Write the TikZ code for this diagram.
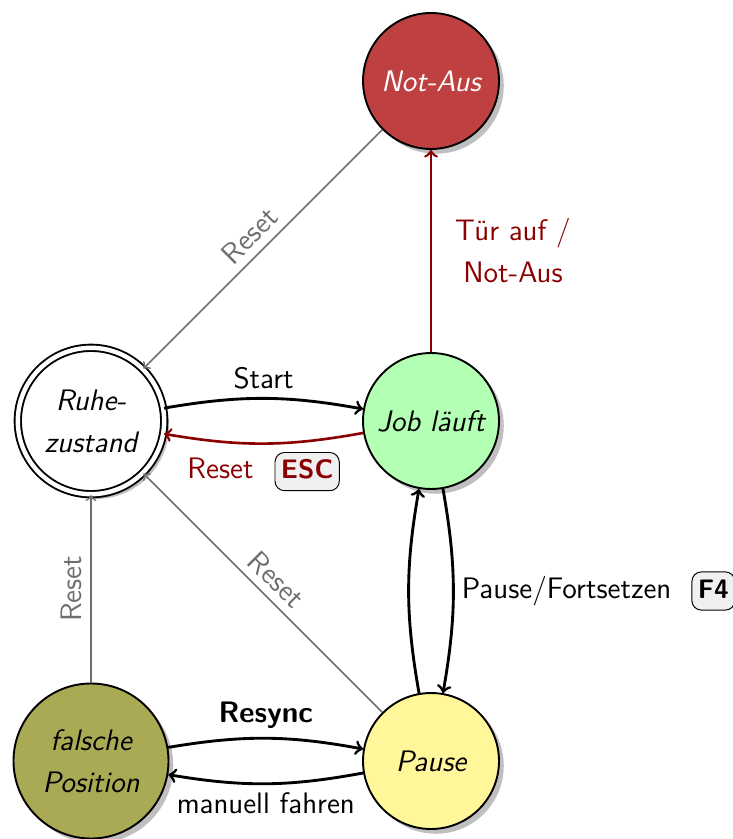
\documentclass[tikz,border=0pt]{standalone}
\usepackage{fontspec}
\renewcommand{\familydefault}{\sfdefault}
\usetikzlibrary{shadows}

\definecolor{notausred}{RGB}{191,64,64}
\definecolor{jobgreen}{RGB}{179,255,179}
\definecolor{pauseyellow}{RGB}{255,247,153}
\definecolor{falschcol}{RGB}{170,170,85}
\definecolor{darkred}{RGB}{139,0,0}
\definecolor{resetgray}{RGB}{110,110,110}
\definecolor{keyfill}{RGB}{240,240,240}

\newcommand{\kbdkey}[3]{\tikz[baseline=(#3.base)]\node[draw=black, line width=0.4pt, rounded corners=4pt, fill=keyfill, inner xsep=2.5pt, inner ysep=0pt, outer sep=0pt, text height=11pt, text depth=5pt, text=#2, font=\sffamily\bfseries\fontsize{11.2}{13}\selectfont] (#3) {#1};}

\begin{document}
\begin{tikzpicture}[x=0.0147059cm, y=-0.0147059cm,
  every node/.style={font=\sffamily\fontsize{12.4}{17.6}\selectfont},
  state/.style={circle, draw=black, thick, minimum size=2cm, inner sep=0pt, align=center,
    font=\sffamily\itshape\fontsize{12.4}{17.6}\selectfont,
    drop shadow={shadow xshift=2pt, shadow yshift=-2pt, fill=black!50, opacity=.5}},
  blk/.style={->, draw=black, line width=1.2pt},
  redarr/.style={->, color=darkred, line width=1.1pt},
  grayarr/.style={->, color=resetgray, line width=0.7pt}]
\useasboundingbox (0,0) rectangle (732,839);

% states
\node[state, fill=notausred, text=white] (NA) at (431,81) {Not-Aus};
\node[state, fill=white, double, double distance=1.85pt, minimum size=2.153cm] (R) at (91,421) {Ruhe-\\zustand};
\node[state, fill=jobgreen] (J) at (431,421) {Job läuft};
\node[state, fill=falschcol, minimum size=2.28cm] (F) at (91,761) {falsche\\Position};
\node[state, fill=pauseyellow] (P) at (431,761) {Pause};

% transitions
\draw[blk] (R) to[bend left=10] node[above] (lstart) {Start} (J);
\draw[redarr] (J) to[bend left=10] node[below] (lreset) {Reset\hspace{8.8pt}\kbdkey{ESC}{darkred}{kesc}} (R);
\draw[redarr] (J) -- node[right=0.22cm, align=center] (ltuer) {Tür auf /\\Not-Aus} (NA);
\draw[blk] (J) to[bend left=10] node[right] (lpause) {Pause/Fortsetzen\hspace{8.4pt}\kbdkey{F4}{black}{kf4}} (P);
\draw[blk] (P) to[bend left=10] (J);
\draw[blk] (F) to[bend left=10] node[above] (lresync) {\bfseries Resync} (P);
\draw[blk] (P) to[bend left=10] node[below] (lmanuell) {manuell fahren} (F);
\draw[grayarr] (NA) -- node[above, sloped] (lr1) {Reset} (R);
\draw[grayarr] (P) -- node[above, sloped] (lr2) {Reset} (R);
\draw[grayarr] (F) -- node[above, sloped] (lr3) {Reset} (R);
\end{tikzpicture}
\end{document}
